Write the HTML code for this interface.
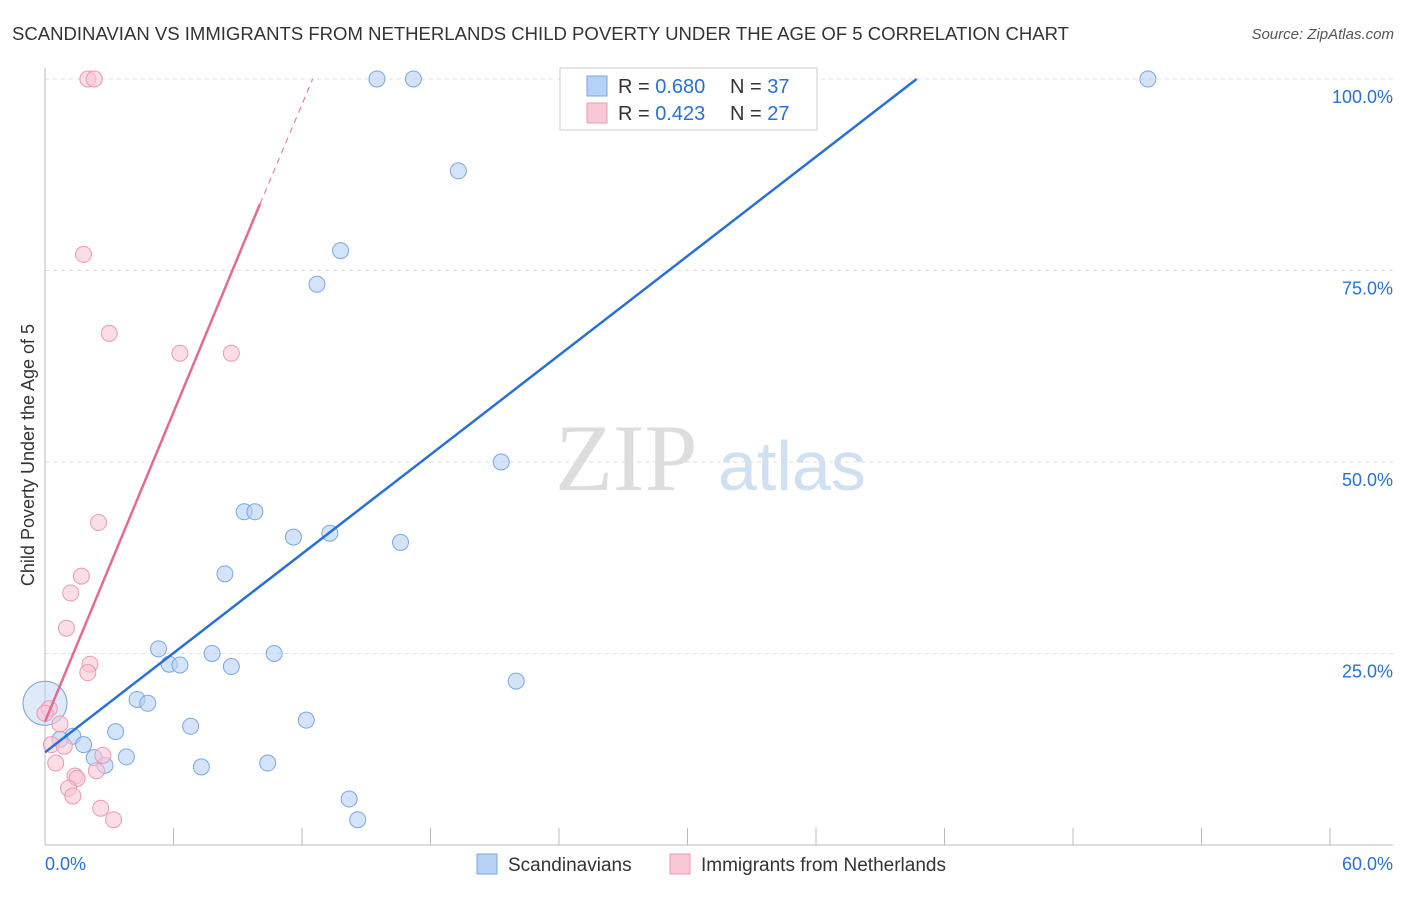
<!DOCTYPE html>
<html><head><meta charset="utf-8"><style>
body{margin:0;background:#fff;font-family:"Liberation Sans",sans-serif}
</style></head><body>
<svg id="c" width="1406" height="892" xmlns="http://www.w3.org/2000/svg" style="font-family:'Liberation Sans',sans-serif">
<text x="12" y="40" font-size="18" fill="#333" textLength="1057" lengthAdjust="spacingAndGlyphs">SCANDINAVIAN VS IMMIGRANTS FROM NETHERLANDS CHILD POVERTY UNDER THE AGE OF 5 CORRELATION CHART</text>
<text x="1394" y="39" font-size="15" fill="#555" text-anchor="end" font-style="italic">Source: ZipAtlas.com</text>
<text x="34" y="455" font-size="18" fill="#333" text-anchor="middle" transform="rotate(-90 34 455)">Child Poverty Under the Age of 5</text>
<text x="555" y="490" font-size="95" fill="#ddd" font-family="Liberation Serif">ZIP</text>
<text x="718" y="490" font-size="70" fill="#cfe0f3">atlas</text>
<g id="grid"></g><g id="pts"></g><g id="lines"></g>
<g>
<rect x="560" y="68" width="257" height="62" fill="#fff" stroke="#ccc"/>
<rect x="587" y="76" width="20" height="20" fill="#b5d1f5" stroke="#7aa7e0"/>
<text x="618" y="93" font-size="20" fill="#333">R = <tspan fill="#2a6fd6">0.680</tspan></text>
<text x="730" y="93" font-size="20" fill="#333">N = <tspan fill="#2a6fd6">37</tspan></text>
<rect x="587" y="103" width="20" height="20" fill="#f9c7d6" stroke="#eb99b3"/>
<text x="618" y="120" font-size="20" fill="#333">R = <tspan fill="#2a6fd6">0.423</tspan></text>
<text x="730" y="120" font-size="20" fill="#333">N = <tspan fill="#2a6fd6">27</tspan></text>
</g>
<g>
<rect x="477" y="854" width="20" height="20" fill="#b5d1f5" stroke="#7aa7e0"/>
<text x="508" y="871" font-size="19" fill="#333">Scandinavians</text>
<rect x="670" y="854" width="20" height="20" fill="#f9c7d6" stroke="#eb99b3"/>
<text x="701" y="871" font-size="19" fill="#333">Immigrants from Netherlands</text>
</g>
<text x="45" y="870" font-size="18" fill="#2a6fd6">0.0%</text>
<text x="1393" y="870" font-size="18" fill="#2a6fd6" text-anchor="end">60.0%</text>
</svg>
<script>
const yTicks=[25,50,75,100];
const yTickLabels=["25.0%","50.0%","75.0%","100.0%"];
const blueX=[0.0,15.5,17.2,26.1,51.5,19.3,13.8,12.7,21.3,9.3,9.8,11.6,13.3,16.6,8.4,5.3,5.8,6.3,7.8,8.7,10.7,22.0,4.3,4.8,6.8,3.3,12.2,1.3,0.7,1.8,2.3,2.8,3.8,7.3,10.4,14.2,14.6];
const blueY=[18.5,100,100,99.6,100,88.0,77.6,73.2,50.0,43.5,43.5,40.2,40.7,39.5,35.4,25.6,23.6,23.5,25.0,23.3,25.0,21.4,19.0,18.5,15.5,14.8,16.3,14.2,13.8,13.1,11.4,10.4,11.5,10.2,10.7,6.0,3.3];
const pinkX=[2.0,2.3,1.8,3.0,6.3,8.7,2.5,1.7,1.2,1.0,2.1,2.0,0.2,0.7,0.3,0.9,0.5,1.4,1.5,2.7,2.4,1.1,1.3,2.6,3.2,0.0];
const pinkY=[100,100,77.1,66.8,64.2,64.2,42.1,35.1,32.9,28.3,23.6,22.5,17.8,15.8,13.1,12.9,10.7,9.0,8.7,11.7,9.7,7.4,6.4,4.8,3.3,17.2];
const blueLine=[0,12.1,40.7,100];
const pinkLine=[0,16.1,10.04,83.7,12.5,100];
const X=v=>45+v/60*1285, Y=v=>845-v/100*766;
const NS="http://www.w3.org/2000/svg";
function mk(p,t,a){const e=document.createElementNS(NS,t);for(const k in a)e.setAttribute(k,a[k]);document.getElementById(p).appendChild(e);return e;}
yTicks.forEach((t,i)=>{
 const l=mk('grid','line',{x1:45,x2:1393,y1:Y(t),y2:Y(t),stroke:'#ddd','stroke-dasharray':'4,4'});
 
 
 const tx=mk('grid','text',{x:1393,y:Y(t)+24,'font-size':18,fill:'#2a6fd6','text-anchor':'end'});
 tx.textContent=yTickLabels[i];
 
 
});
const ax=mk('grid','line',{x1:45,x2:45,y1:68,y2:845,stroke:'#bbb'});


const bx=mk('grid','line',{x1:45,x2:1393,y1:845,y2:845,stroke:'#bbb'});


for(let i=0;i<=10;i++){const t=mk('grid','line',{x1:X(i*6),x2:X(i*6),y1:828,y2:845,stroke:'#bbb'});
 
 }
blueX.forEach((x,i)=>{const c=mk('pts','circle',{cx:X(x),cy:Y(blueY[i]),r:i==0?22:8,fill:'#b5d1f5','fill-opacity':i==0?0.45:0.6,stroke:'#7aa7e0'});
 
 });
pinkX.forEach((x,i)=>{const c=mk('pts','circle',{cx:X(x),cy:Y(pinkY[i]),r:8,fill:'#f9c7d6','fill-opacity':0.6,stroke:'#eb99b3'});
 
 });
const l1=mk('lines','line',{x1:X(blueLine[0]),y1:Y(blueLine[1]),x2:X(blueLine[2]),y2:Y(blueLine[3]),stroke:'#2a6fd6','stroke-width':2.5});


const l2=mk('lines','line',{x1:X(pinkLine[0]),y1:Y(pinkLine[1]),x2:X(pinkLine[2]),y2:Y(pinkLine[3]),stroke:'#e46a96','stroke-width':2.5});


const l3=mk('lines','line',{x1:X(pinkLine[2]),y1:Y(pinkLine[3]),x2:X(pinkLine[4]),y2:Y(pinkLine[5]),stroke:'#e46a96','stroke-width':1,'stroke-dasharray':'6,5'});


</script>
</body></html>
